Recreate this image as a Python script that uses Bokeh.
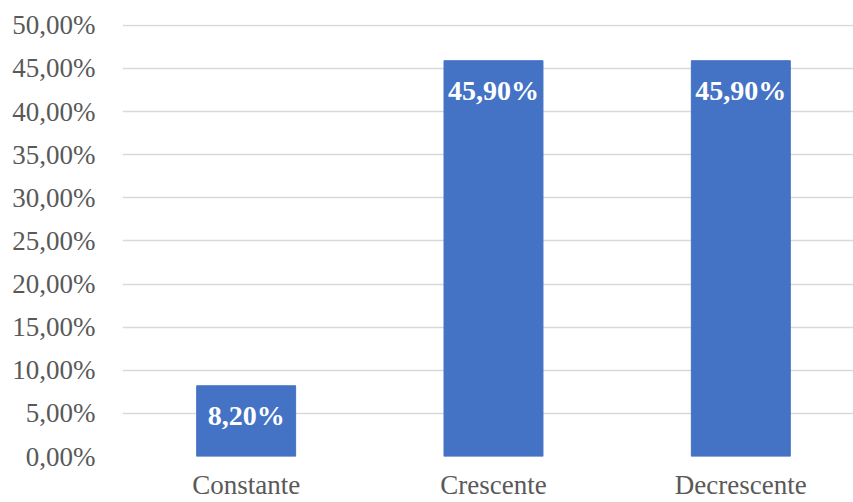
from bokeh.plotting import figure
from bokeh.models import Range1d, FixedTicker, ColumnDataSource
from bokeh.core.properties import value
from bokeh.embed import file_html
from bokeh.resources import INLINE

categories = ["Constante", "Crescente", "Decrescente"]
values = [8.20, 45.90, 45.90]
value_labels = ["8,20%", "45,90%", "45,90%"]
y_ticks = [0, 5, 10, 15, 20, 25, 30, 35, 40, 45, 50]
y_tick_labels = ["0,00%", "5,00%", "10,00%", "15,00%", "20,00%", "25,00%",
                 "30,00%", "35,00%", "40,00%", "45,00%", "50,00%"]

xs = list(range(len(categories)))
src = ColumnDataSource(dict(x=xs, top=values, label=value_labels))

p = figure(width=853, height=502, output_backend="svg", toolbar_location=None,
           x_range=Range1d(-0.5, 2.4556), y_range=Range1d(0, 50.1),
           min_border_left=122, min_border_right=0, min_border_top=24, min_border_bottom=0)
p.outline_line_color = None
p.background_fill_color = "white"
p.border_fill_color = "white"

p.vbar(x="x", top="top", bottom=0, width=0.4, color="#4472C4", source=src)
p.text(x="x", y="top", text="label", source=src, text_color="white",
       text_font=value("Liberation Serif"), text_font_style="bold",
       text_font_size="28px", text_align="center", text_baseline="middle", y_offset=30)

p.xgrid.grid_line_color = None
p.ygrid.grid_line_color = "#D9D9D9"
p.ygrid.grid_line_width = 1.3
p.yaxis.ticker = FixedTicker(ticks=y_ticks)
p.yaxis.major_label_overrides = {t: l for t, l in zip(y_ticks, y_tick_labels)}
p.xaxis.ticker = FixedTicker(ticks=xs)
p.xaxis.major_label_overrides = {x: c for x, c in zip(xs, categories)}

for ax in (p.xaxis[0], p.yaxis[0]):
    ax.axis_line_color = None
    ax.major_tick_line_color = None
    ax.minor_tick_line_color = None
    ax.major_label_text_font = "Liberation Serif"
    ax.major_label_text_font_size = "27px"
    ax.major_label_text_color = "#595959"
p.yaxis.major_label_standoff = 21
p.xaxis.major_label_standoff = 7

open("out.html", "w").write(file_html(p, INLINE))
